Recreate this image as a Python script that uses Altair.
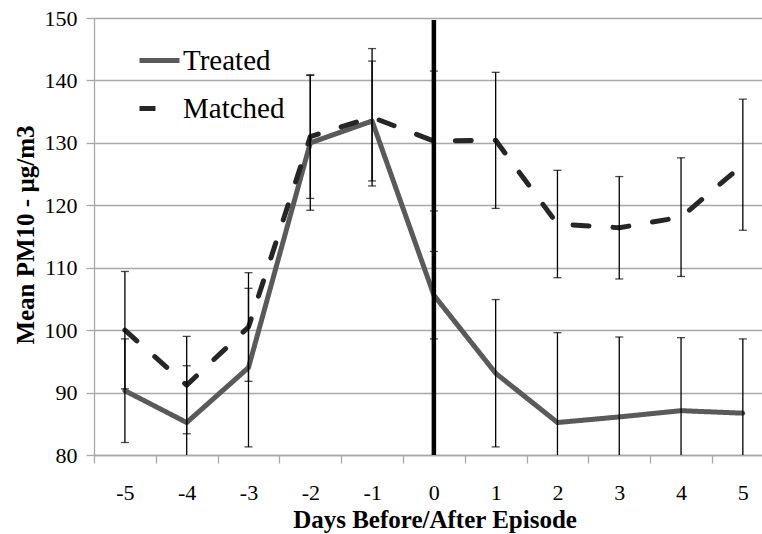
import altair as alt
import pandas as pd

# Days relative to the pollution episode
days = [-5, -4, -3, -2, -1, 0, 1, 2, 3, 4, 5]

# Mean PM10 (µg/m3) and error-bar half widths for each group
treated = [90.3, 85.2, 94.0, 130.0, 133.5, 105.6, 93.1, 85.2, 86.1, 87.1, 86.7]
treated_err = [8.3, 9.1, 12.7, 10.8, 9.6, 7.0, 11.8, 14.4, 12.8, 11.7, 11.9]
matched = [100.0, 91.2, 100.5, 131.0, 134.1, 130.3, 130.4, 117.0, 116.4, 118.1, 126.5]
matched_err = [9.4, 7.8, 8.7, 9.9, 11.0, 11.2, 10.9, 8.6, 8.2, 9.5, 10.5]

series_names = ["Treated", "Matched"]
series_colors = ["#5a5a5a", "#262626"]
series_dash = [[1, 0], [16, 24]]

episode_day = [0]
y_ticks = [80, 90, 100, 110, 120, 130, 140, 150]
# tick marks sit between the day categories
x_ticks = [d - 0.5 for d in days]

rows = []
for name, means, errs in [("Treated", treated, treated_err), ("Matched", matched, matched_err)]:
    for d, m, e in zip(days, means, errs):
        rows.append({"day": d, "series": name, "mean": m, "lo": m - e, "hi": m + e})
df = pd.DataFrame(rows)

FONT = "Liberation Serif, Times New Roman, serif"
GRID = "#a8a8a8"

x_enc = alt.X(
    "day:Q",
    scale=alt.Scale(domain=[-5.5, 5.31], nice=False, zero=False),
    axis=alt.Axis(
        values=x_ticks,
        labelExpr="'' + (datum.value + 0.5)",
        labelOffset=30.9,
        labelFlush=False,
        labelOverlap=False,
        grid=False,
        title="Days Before/After Episode",
        titleX=340.5,
        titleY=72,
        titleBaseline="alphabetic",
        labelBaseline="alphabetic",
        labelPadding=36,
    ),
)
y_enc = alt.Y(
    "mean:Q",
    scale=alt.Scale(domain=[80, 150], nice=False, zero=False),
    axis=alt.Axis(
        values=y_ticks,
        title="Mean PM10 - µg/m3",
        titleX=-61,
        titleY=216.5,
        titleBaseline="alphabetic",
        labelPadding=9,
    ),
)

legend = alt.Legend(
    title=None,
    orient="none",
    legendX=43,
    legendY=20,
    symbolType="stroke",
    symbolSize=1600,
    symbolStrokeWidth=5,
    labelFont=FONT,
    labelFontSize=29,
    labelColor="black",
    labelOffset=1,
    rowPadding=10,
    padding=0,
)
color_enc = alt.Color(
    "series:N",
    scale=alt.Scale(domain=series_names, range=series_colors),
    legend=legend,
)
dash_enc = alt.StrokeDash(
    "series:N",
    scale=alt.Scale(domain=series_names, range=series_dash),
    legend=legend,
)

base = alt.Chart(df)

line_treated = base.transform_filter(alt.datum.series == "Treated").mark_line(
    strokeWidth=5, strokeCap="round", strokeJoin="round"
).encode(x=x_enc, y=y_enc, color=color_enc, strokeDash=dash_enc)

line_matched = base.transform_filter(alt.datum.series == "Matched").mark_line(
    strokeWidth=5, strokeCap="round", strokeJoin="round"
).encode(x=x_enc, y=y_enc, color=color_enc, strokeDash=dash_enc)

err_rules = base.mark_rule(color="black", strokeWidth=1.3, clip=True).encode(
    x="day:Q", y="lo:Q", y2="hi:Q"
)

err_caps = base.transform_fold(["lo", "hi"], as_=["end", "val"]).mark_tick(
    orient="horizontal", size=8, thickness=1.3, color="black", clip=True
).encode(x="day:Q", y="val:Q")

episode_line = alt.Chart(pd.DataFrame({"day": episode_day})).mark_rule(
    color="black", strokeWidth=4.5
).encode(x="day:Q", y=alt.value(2), y2=alt.value(437))

chart = alt.layer(
    line_treated, line_matched, err_rules, err_caps, episode_line
).properties(
    width=668,
    height=437,
    autosize=alt.AutoSizeParams(type="none"),
    padding={"left": 94, "top": 18, "right": 0, "bottom": 79},
    background="white",
).configure_view(
    stroke=None
).configure_axis(
    labelFont=FONT,
    labelFontSize=22,
    labelColor="black",
    titleFont=FONT,
    titleFontSize=25,
    titleFontWeight="bold",
    titleColor="black",
    domainColor=GRID,
    domainWidth=1.3,
    tickColor=GRID,
    tickWidth=1.3,
    tickSize=8,
    gridColor=GRID,
    gridWidth=1.3,
)

chart.save("out.html", embed_options={"renderer": "svg", "actions": False})
